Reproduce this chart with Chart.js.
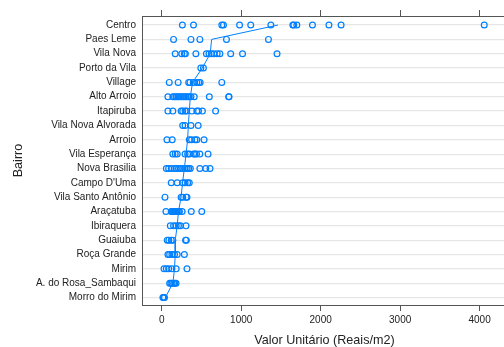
<!DOCTYPE html>
<html>
<head>
<meta charset="utf-8">
<script src="https://cdn.jsdelivr.net/npm/chart.js@4"></script>
<style>
  html, body { margin: 0; padding: 0; background: #fff; overflow: hidden; }
  #wrap { width: 512px; height: 347px; }
</style>
</head>
<body>
<div id="wrap"><canvas id="chart" width="512" height="347"></canvas></div>
<script>
const bairros = ['Centro', 'Paes Leme', 'Vila Nova', 'Porto da Vila', 'Village', 'Alto Arroio',
    'Itapiruba', 'Vila Nova Alvorada', 'Arroio', 'Vila Esperança', 'Nova Brasilia', "Campo D'Uma",
    'Vila Santo Antônio', 'Araçatuba', 'Ibiraquera', 'Guaiuba', 'Roça Grande', 'Mirim',
    'A. do Rosa_Sambaqui', 'Morro do Mirim'];

const centro = [260, 400, 756, 777, 980, 1120, 1373, 1650, 1662, 1700, 1897, 2104, 2257, 4058];
const paesLeme = [149, 368, 480, 815, 1343];
const vilaNova = [170, 252, 285, 298, 430, 562, 595, 624, 657, 698, 732, 868, 1017, 1451];
const portoDaVila = [492, 525];
const village = [95, 207, 339, 356, 397, 442, 467, 484, 756];
const altoArroio = [78, 140, 161, 182, 202, 223, 244, 264, 285, 306, 326, 347, 368, 409, 599, 843, 847];
const itapiruba = [78, 140, 244, 264, 294, 314, 380, 442, 463, 512, 678];
const vilaNovaAlvorada = [264, 294, 368, 459];
const arroio = [66, 132, 347, 376, 418, 442, 533];
const vilaEsperanca = [140, 170, 195, 294, 326, 347, 401, 418, 438, 480, 583];
const novaBrasilia = [58, 87, 120, 161, 182, 211, 236, 264, 294, 319, 339, 360, 480, 554, 608];
const campoDUma = [120, 195, 264, 294, 326, 347];
const vilaSantoAntonio = [41, 244, 264, 306, 318];
const aracatuba = [53, 120, 130, 140, 150, 160, 170, 180, 195, 210, 223, 257, 372, 504];
const ibiraquera = [108, 149, 182, 211, 236, 306];
const guaiuba = [70, 90, 120, 140, 300, 310];
const rocaGrande = [78, 99, 128, 161, 195, 285];
const mirim = [29, 58, 87, 128, 182, 318];
const aDoRosa = [100, 115, 130, 150, 165, 180];
const morroDoMirim = [15, 25, 35];

// linha de tendencia por bairro
const tendencia = [1463, 628, 610, 510, 388, 360, 347, 335, 326, 306, 285, 262, 244, 211, 195, 170, 170, 161, 140, 46];

const xTicks = [0, 1000, 2000, 3000, 4000];

const valores = [centro, paesLeme, vilaNova, portoDaVila, village, altoArroio, itapiruba,
    vilaNovaAlvorada, arroio, vilaEsperanca, novaBrasilia, campoDUma, vilaSantoAntonio,
    aracatuba, ibiraquera, guaiuba, rocaGrande, mirim, aDoRosa, morroDoMirim];

const pontos = [];
valores.forEach((lista, i) => lista.forEach(v => pontos.push({ x: v, y: i })));

const azul = '#0080ff';
const eixo = '#555555';
const fonteTick = { family: 'Liberation Sans, Arial, sans-serif', size: 10 };
const fonteTitulo = { family: 'Liberation Sans, Arial, sans-serif', size: 12.6, lineHeight: 1 };

const chart = new Chart(document.getElementById('chart'), {
    type: 'scatter',
    data: {
        datasets: [{
            data: pontos,
            pointStyle: 'circle',
            pointRadius: 2.9,
            pointBorderWidth: 1.2,
            borderColor: azul,
            backgroundColor: 'rgba(0,0,0,0)'
        }, {
            type: 'line',
            data: tendencia.map((v, i) => ({ x: v, y: i })),
            borderColor: azul,
            borderWidth: 1,
            pointRadius: 0,
            fill: false,
            tension: 0
        }]
    },
    options: {
        responsive: false,
        animation: false,
        layout: { padding: 0 },
        plugins: { legend: { display: false }, tooltip: { enabled: false } },
        scales: {
            x: {
                type: 'linear',
                position: 'bottom',
                min: -248,
                max: 4342,
                afterBuildTicks: s => { s.ticks = xTicks.map(v => ({ value: v })); },
                afterFit: s => { s.height = 42; },
                grid: { drawOnChartArea: false, drawTicks: true, tickLength: 6, color: eixo, lineWidth: 1 },
                border: { display: true, color: eixo, width: 1 },
                ticks: { color: '#222', font: fonteTick, padding: 3, maxRotation: 0, callback: v => String(v) },
                title: {
                    display: true,
                    text: 'Valor Unitário (Reais/m2)',
                    color: '#222',
                    font: fonteTitulo,
                    padding: { top: 0, bottom: 0 }
                }
            },
            x2: {
                type: 'linear',
                position: 'top',
                min: -248,
                max: 4342,
                afterBuildTicks: s => { s.ticks = xTicks.map(v => ({ value: v })); },
                afterFit: s => { s.height = 16; },
                grid: { drawOnChartArea: false, drawTicks: true, tickLength: 6, color: eixo, lineWidth: 1 },
                border: { display: true, color: eixo, width: 1 },
                ticks: { display: false }
            },
            y: {
                type: 'linear',
                reverse: true,
                min: -0.63,
                max: 19.52,
                afterBuildTicks: s => { s.ticks = bairros.map((_, i) => ({ value: i })); },
                afterFit: s => { s.width = 142; },
                grid: { drawTicks: false, color: '#e6e6e6', lineWidth: 1.2 },
                border: { display: true, color: eixo, width: 1 },
                ticks: {
                    color: '#222',
                    font: fonteTick,
                    padding: 6,
                    autoSkip: false,
                    callback: v => bairros[v]
                },
                title: {
                    display: true,
                    text: 'Bairro',
                    color: '#222',
                    font: fonteTitulo,
                    padding: { top: 12, bottom: 0 }
                }
            }
        }
    }
});
</script>
</body>
</html>
